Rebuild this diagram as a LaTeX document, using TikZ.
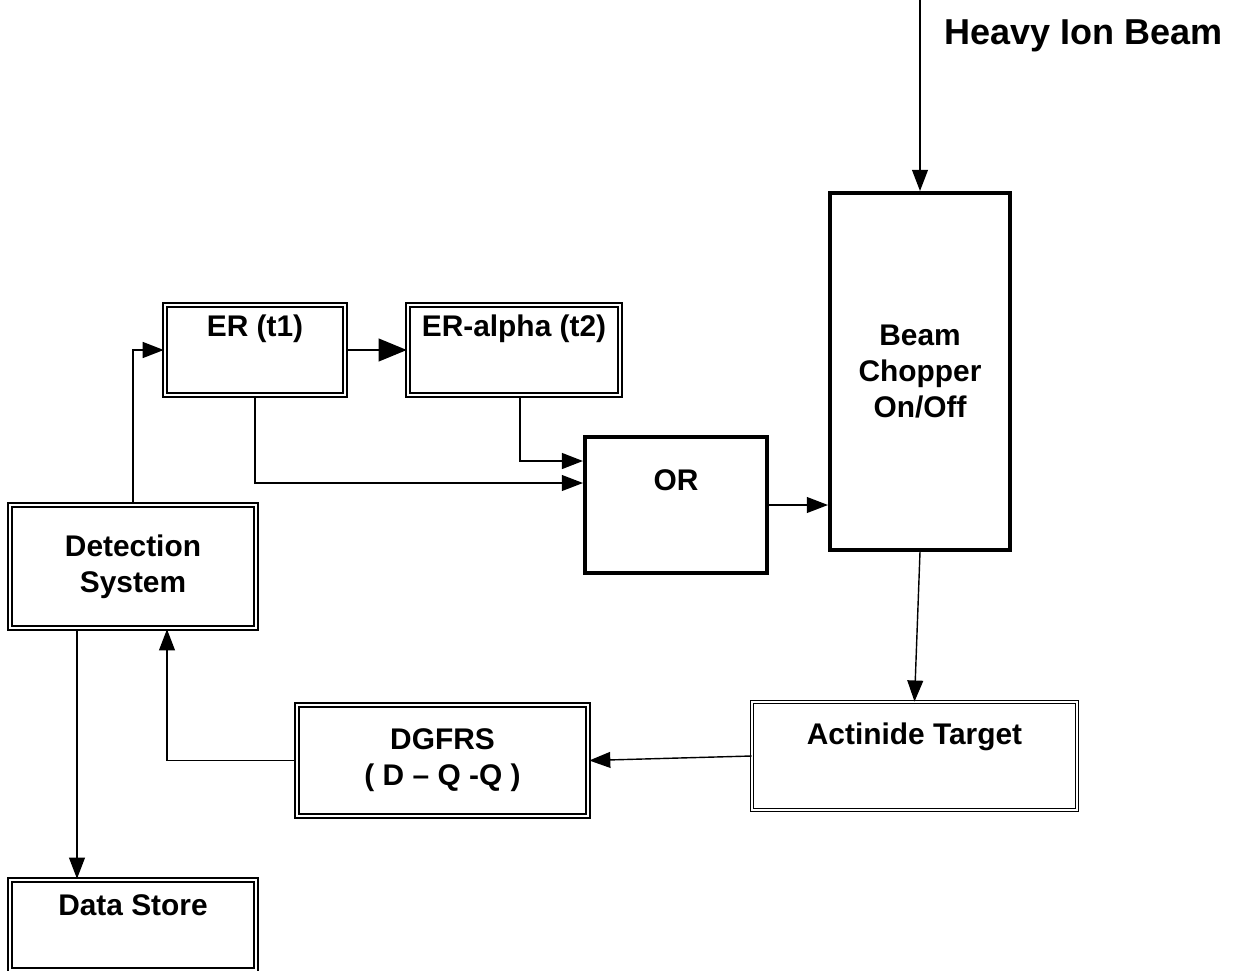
\documentclass[tikz,border=0pt]{standalone}
\usepackage{fontspec}
\setmainfont{Liberation Sans}
\usetikzlibrary{arrows.meta}
\tikzset{font={\fontsize{17pt}{20.5pt}\selectfont\bfseries}}

\begin{document}
\begin{tikzpicture}[
heavy box/.style={draw,double,line width=1.4pt,double distance=1.1pt,inner sep=0pt,align=center},
light box/.style={draw,double,line width=.5pt,double distance=1.6pt,inner sep=0pt},
thick box/.style={draw,line width=2.3pt,inner sep=0pt,align=center},
wire/.style={line width=.8pt,-{Triangle[length=12pt,width=9pt]}},
big wire/.style={line width=.8pt,-{Triangle[length=16pt,width=13pt]}}
]
\useasboundingbox (0,0) rectangle (24.84,-19.42);

%boxes
\node[heavy box,minimum width=3.6cm,minimum height=1.8cm] (er) at (5.1,-7.0) {};
\node[heavy box,minimum width=4.24cm,minimum height=1.8cm] (era) at (10.28,-7.0) {};
\node[thick box,minimum width=3.64cm,minimum height=2.72cm] (or) at (13.52,-10.1) {};
\node[thick box,minimum width=3.6cm,minimum height=7.14cm] (bc) at (18.4,-7.43) {Beam\\Chopper\\On/Off};
\node[heavy box,minimum width=4.92cm,minimum height=2.46cm] (det) at (2.66,-11.33) {Detection\\System};
\node[heavy box,minimum width=5.82cm,minimum height=2.22cm] (dg) at (8.85,-15.21) {DGFRS\\( D -- Q -Q )};
\node[light box,minimum width=6.5cm,minimum height=2.16cm] (at) at (18.29,-15.12) {};
\node[heavy box,minimum width=4.92cm,minimum height=1.8cm] (ds) at (2.66,-18.5) {};

%texts near the top
\node (ertxt) at ([yshift=-.5cm]er.north) {ER (t1)};
\node (eratxt) at ([yshift=-.5cm]era.north) {ER-alpha (t2)};
\node (ortxt) at ([yshift=-.9cm]or.north) {OR};
\node (attxt) at ([yshift=-.7cm]at.north) {Actinide Target};
\node (dstxt) at ([yshift=-.52cm]ds.north) {Data Store};
\node (hib) at (21.67,-.72) {\fontsize{20.5pt}{24pt}\selectfont Heavy Ion Beam};

%connectors
\draw[wire] (bc.north |- 0,0) -- (bc.north);
\draw[wire,line width=1.1pt] (det.north) |- (er.west);
\draw[big wire] (er) -- (era);
\draw[wire] (er.south) |- ([yshift=.44cm]or.west);
\draw[wire,line width=1.1pt] ([xshift=.12cm]era.south) |- ([yshift=.88cm]or.west);
\draw[wire] (or.east) -- (or.east -| bc.west);
\draw[wire] (bc.south) -- (at.north);
\draw[wire] (at.west) -- (dg.east);
\draw[wire] (dg.west) -| ([xshift=.68cm]det.south);
\draw[wire] ([xshift=-1.12cm]det.south) -- ([xshift=-1.12cm]ds.north);

\end{tikzpicture}
\end{document}
